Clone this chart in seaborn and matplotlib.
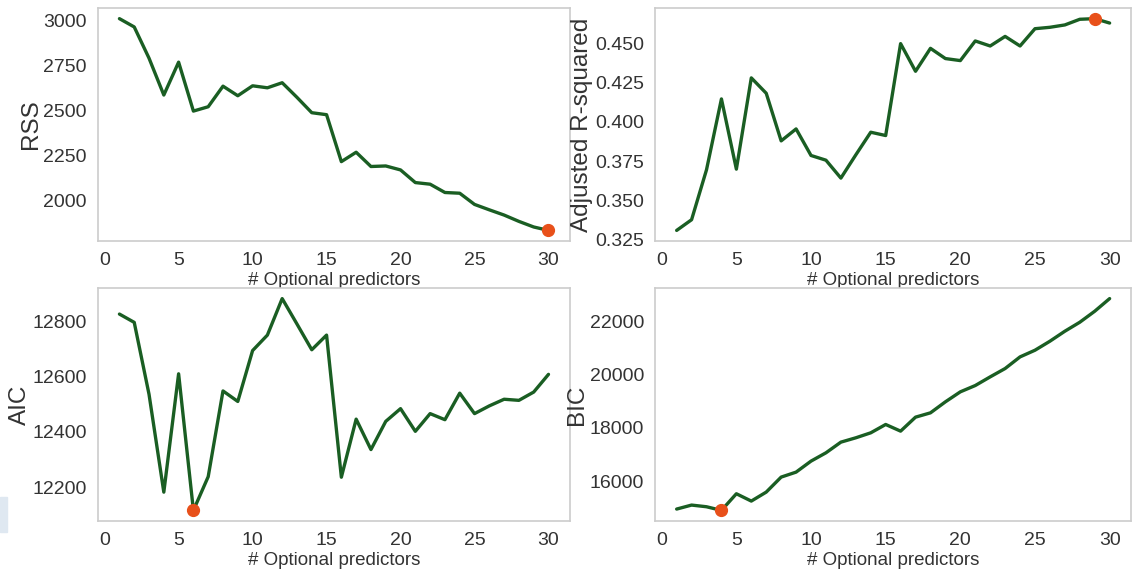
import matplotlib
matplotlib.use("Agg")
import matplotlib.pyplot as plt
from matplotlib.ticker import MultipleLocator, FormatStrFormatter
import seaborn as sns
import numpy as np
import pandas as pd
from matplotlib.patches import Rectangle

n_predictors = list(range(1, 31))

rss = [3009, 2963, 2790, 2586, 2768, 2497, 2521, 2635, 2582, 2637,
       2626, 2654, 2573, 2488, 2477, 2217, 2269, 2190, 2193, 2171,
       2101, 2092, 2046, 2042, 1980, 1950, 1921, 1886, 1855, 1836]

adj_r2 = [0.3309, 0.3377, 0.3695, 0.4146, 0.3699, 0.4280, 0.4182, 0.3879, 0.3955, 0.3786,
          0.3756, 0.3642, 0.3790, 0.3934, 0.3913, 0.4498, 0.4322, 0.4468, 0.4403, 0.4390,
          0.4515, 0.4483, 0.4544, 0.4483, 0.4593, 0.4602, 0.4617, 0.4653, 0.4657, 0.4629]

aic = [12826, 12796, 12536, 12182, 12610, 12116, 12238, 12548, 12510, 12694,
       12750, 12882, 12790, 12697, 12750, 12236, 12446, 12336, 12438, 12484,
       12402, 12466, 12444, 12540, 12466, 12494, 12518, 12514, 12544, 12608]

bic = [14950, 15100, 15037, 14900, 15525, 15250, 15587, 16150, 16337, 16750,
       17062, 17462, 17625, 17812, 18125, 17875, 18400, 18562, 18975, 19350,
       19587, 19912, 20225, 20662, 20912, 21250, 21625, 21962, 22375, 22850]

metrics = [("RSS", rss, "min", 250, "%d"),
           ("Adjusted R-squared", adj_r2, "max", 0.025, "%.3f"),
           ("AIC", aic, "min", 200, "%d"),
           ("BIC", bic, "min", 2000, "%d")]

sns.set_style("white")
plt.rcParams["font.family"] = ["Liberation Sans", "DejaVu Sans"]
plt.rcParams["axes.edgecolor"] = "#cccccc"
plt.rcParams["axes.linewidth"] = 1.2

line_color = "#1a5e23"
dot_color = "#e8501a"

fig = plt.figure(figsize=(11.34, 5.76), dpi=100)
positions = [
    [0.0864, 0.5816, 0.4162, 0.4044],
    [0.5776, 0.5816, 0.4200, 0.4044],
    [0.0864, 0.0955, 0.4162, 0.4045],
    [0.5776, 0.0955, 0.4200, 0.4045],
]

for (name, vals, kind, step, fmt), pos in zip(metrics, positions):
    ax = fig.add_axes(pos)
    df = pd.DataFrame({"n": n_predictors, "v": vals})
    sns.lineplot(data=df, x="n", y="v", ax=ax, color=line_color, linewidth=2.4)
    idx = int(np.argmin(vals)) if kind == "min" else int(np.argmax(vals))
    ax.plot(n_predictors[idx], vals[idx], "o", color=dot_color, markersize=8.5, zorder=5)
    ax.set_xlabel("# Optional predictors", fontsize=13.5, labelpad=2)
    ax.set_ylabel(name, fontsize=17.5, labelpad=1)
    ax.tick_params(axis="both", labelsize=14, colors="#333333", length=0, pad=8)
    ax.set_xticks([0, 5, 10, 15, 20, 25, 30])
    ax.yaxis.set_major_locator(MultipleLocator(step))
    ax.yaxis.set_major_formatter(FormatStrFormatter(fmt))
    ax.grid(False)
    ax.xaxis.label.set_color("#333333")
    ax.yaxis.label.set_color("#333333")

fig.patches.append(Rectangle((0, 1 - 532 / 576), 7 / 1134, 35 / 576,
                             transform=fig.transFigure, color="#dfe8f1",
                             zorder=0))

fig.savefig("out.png", dpi=100)
